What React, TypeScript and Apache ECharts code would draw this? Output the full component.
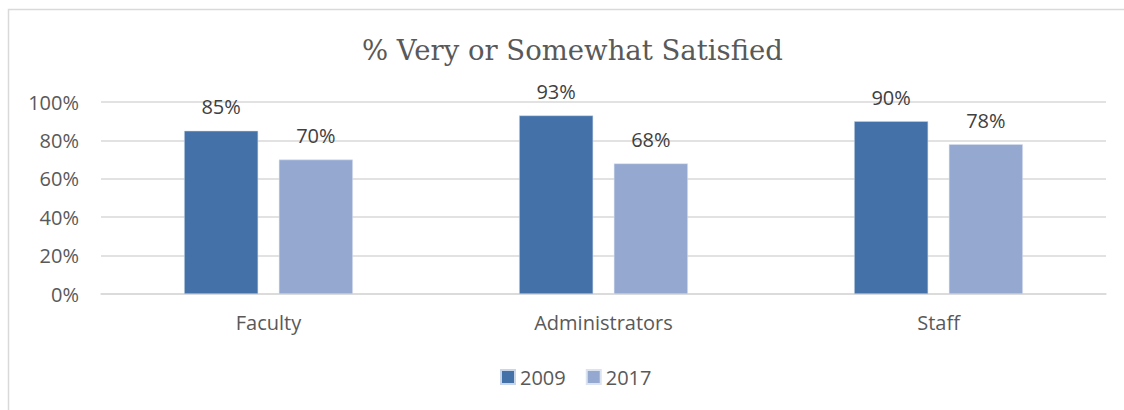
import React, { useEffect, useRef } from "react";
import * as echarts from "echarts";

const categories = ["Faculty", "Administrators", "Staff"];
const values2009 = [85, 93, 90];
const values2017 = [70, 68, 78];
const seriesNames = ["2009", "2017"];
const titleText = "% Very or Somewhat Satisfied";

export default function App() {
  const ref = useRef<HTMLDivElement>(null);
  useEffect(() => {
    const chart = echarts.init(ref.current!, null, { renderer: "svg" });
    const labelFont = "'Open Sans', sans-serif";
    chart.setOption({
      animation: false,
      backgroundColor: "#ffffff",
      title: {
        text: titleText,
        left: 357,
        top: 31,
        textStyle: {
          fontFamily: "'DejaVu Serif', serif",
          fontWeight: "normal",
          fontSize: 27.5,
          color: "#595959",
        },
      },
      graphic: [
        {
          type: "rect",
          shape: { x: 8.5, y: 9.5, width: 1130, height: 420 },
          style: { fill: "none", stroke: "#d9d9d9", lineWidth: 1.5 },
          silent: true,
        },
      ],
      legend: {
        bottom: 18,
        left: 495,
        icon: "rect",
        itemWidth: 14,
        itemHeight: 14,
        itemGap: 20,
        textStyle: { fontFamily: labelFont, fontSize: 20, color: "#595959" },
        data: seriesNames,
      },
      grid: { left: 101, right: 18, top: 102, bottom: 116, containLabel: false },
      xAxis: {
        type: "category",
        data: categories,
        axisLine: { lineStyle: { color: "#d9d9d9", width: 1.5 } },
        axisTick: { show: false },
        axisLabel: {
          fontFamily: labelFont,
          fontSize: 20,
          color: "#595959",
          margin: 18,
        },
      },
      yAxis: {
        type: "value",
        min: 0,
        max: 100,
        interval: 20,
        axisLine: { show: false },
        axisTick: { show: false },
        splitLine: { lineStyle: { color: "#d9d9d9", width: 1.5 } },
        axisLabel: {
          formatter: "{value}%",
          fontFamily: labelFont,
          fontSize: 20,
          color: "#595959",
          margin: 22,
        },
      },
      series: [
        {
          name: seriesNames[0],
          type: "bar",
          data: values2009,
          barWidth: 74,
          barGap: "28%",
          itemStyle: { color: "#4472a8", borderColor: "#c9d6ea", borderWidth: 0.5 },
          label: {
            show: true,
            position: "top",
            distance: 14,
            formatter: "{c}%",
            fontFamily: labelFont,
            fontSize: 20,
            color: "#404040",
          },
        },
        {
          name: seriesNames[1],
          type: "bar",
          data: values2017,
          barWidth: 74,
          itemStyle: { color: "#95a9d0", borderColor: "#dbe3f0", borderWidth: 0.5 },
          label: {
            show: true,
            position: "top",
            distance: 14,
            formatter: "{c}%",
            fontFamily: labelFont,
            fontSize: 20,
            color: "#404040",
          },
        },
      ],
    });
    return () => chart.dispose();
  }, []);
  return (
    <div
      ref={ref}
      style={{ position: "fixed", left: 0, top: 0, width: 1124, height: 410 }}
    />
  );
}
